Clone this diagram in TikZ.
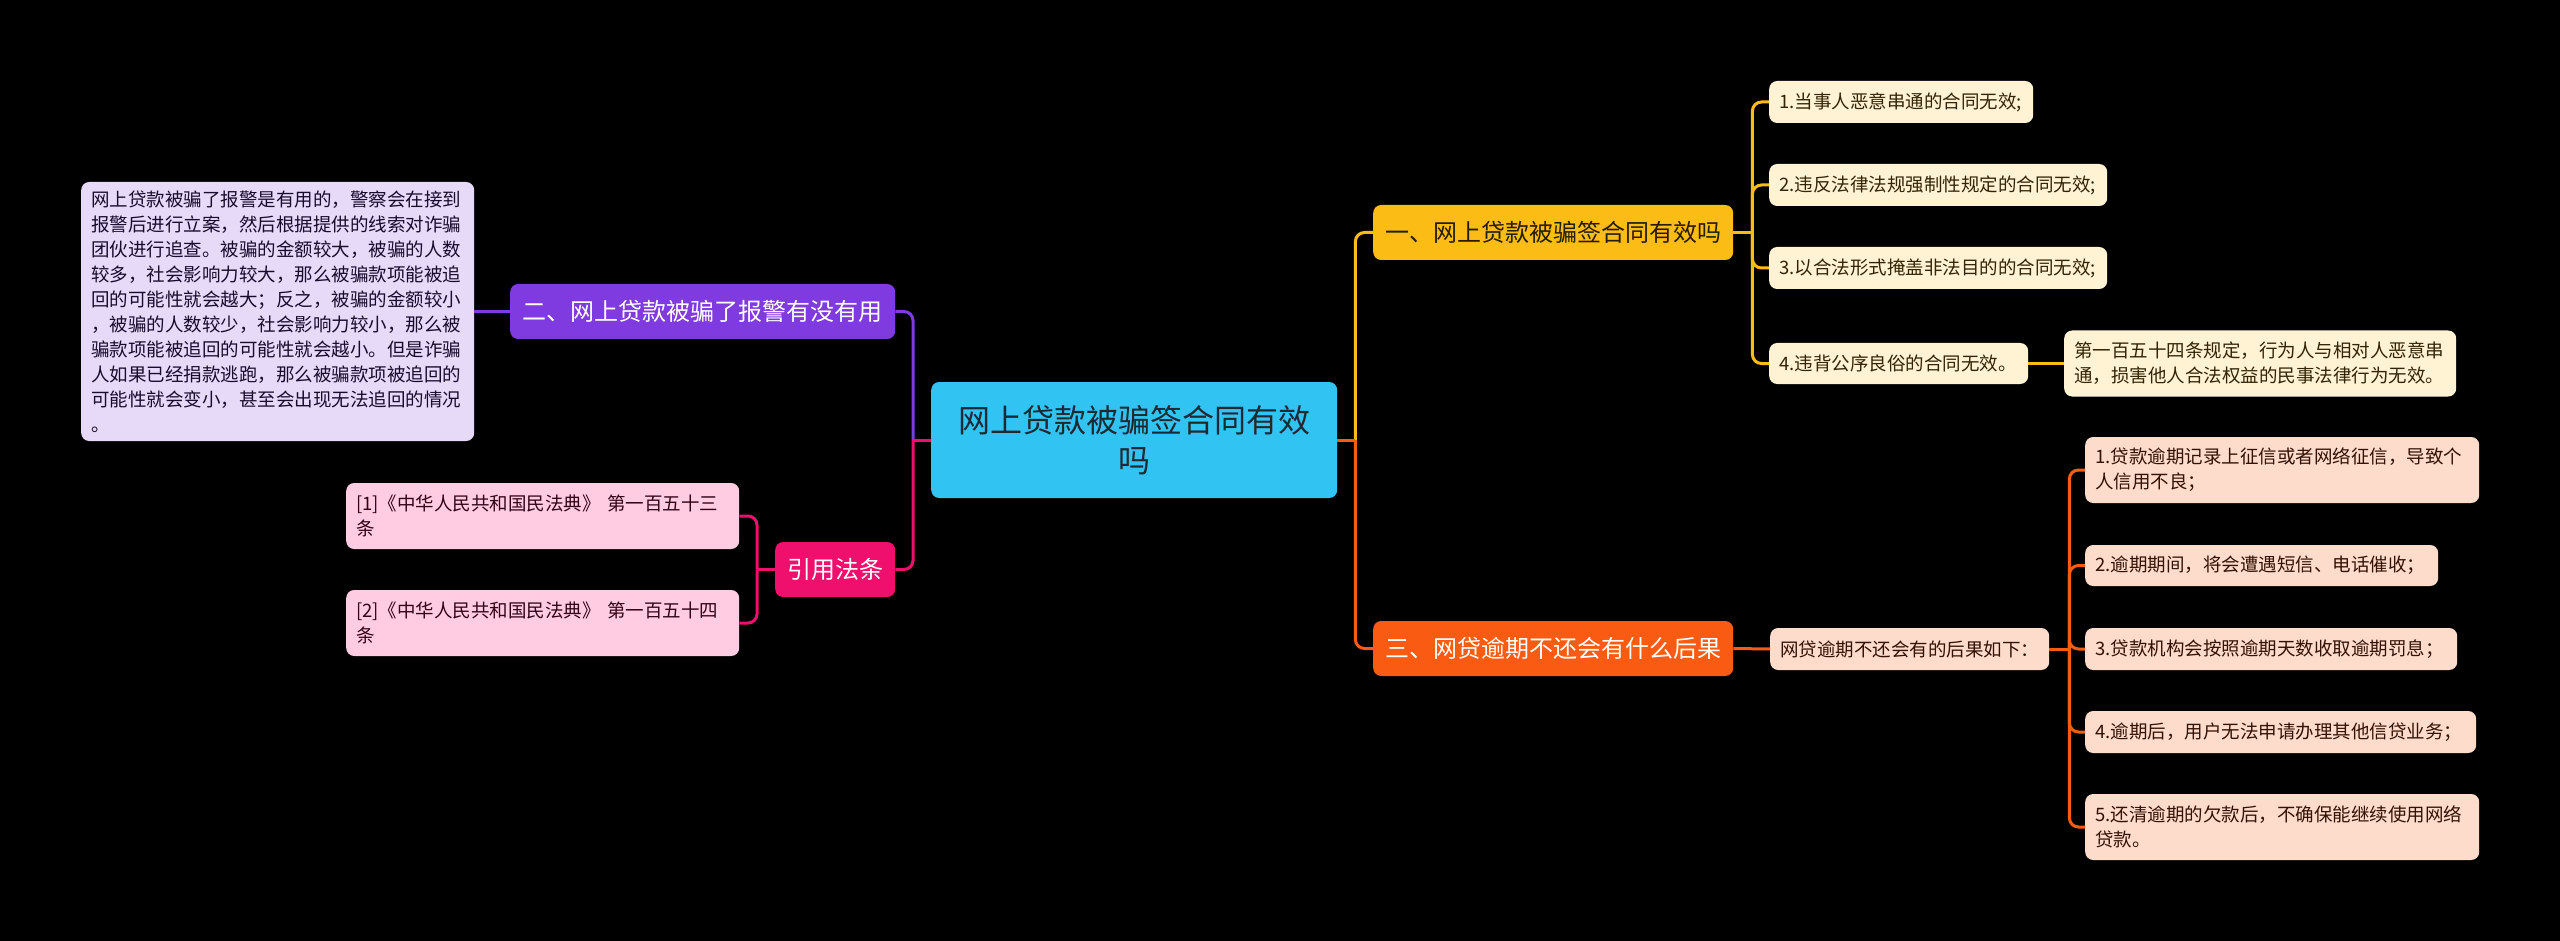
\documentclass[tikz,border=0pt]{standalone}
\usepackage{fontspec}
\setmainfont{Noto Sans CJK SC}
\definecolor{bgc}{HTML}{000000}
\definecolor{cyanc}{HTML}{31C4F3}
\definecolor{purc}{HTML}{7F3AE0}
\definecolor{purl}{HTML}{E6DAF8}
\definecolor{pinkc}{HTML}{EE106C}
\definecolor{pinkl}{HTML}{FFCCE1}
\definecolor{yelc}{HTML}{FBBC15}
\definecolor{yell}{HTML}{FFF3D4}
\definecolor{orac}{HTML}{FA5B12}
\definecolor{oral}{HTML}{FEDCCC}
\definecolor{darkt}{HTML}{1E2A33}
\begin{document}
\begin{tikzpicture}[x=1pt,y=-1pt,
  base/.style={rounded corners=8pt, inner ysep=0pt, inner xsep=10pt, anchor=west},
  title/.style={base, font=\fontsize{24}{30}\selectfont, align=center, minimum height=55pt},
  leaf/.style={base, font=\fontsize{18.5}{25}\selectfont, align=left},
  conn/.style={line width=3pt},
  elbow/.style={line width=3pt, rounded corners=9pt}
]
\useasboundingbox (0,0) rectangle (2560,941);
\fill[bgc] (0,0) rectangle (2560,941);

% central
\node[base, fill=cyanc, text=darkt, font=\fontsize{32}{40}\selectfont, align=center,
  text width=386pt, minimum height=116pt] (C) at (931,440) {网上贷款被骗签合同有效\\吗};

% left branch
\node[title, fill=purc, text=white, minimum width=385pt] (P) at (510,311.5) {二、网上贷款被骗了报警有没有用};
\node[leaf, fill=purl, text=black!80!purc, text width=373pt, minimum height=259pt] (PT) at (81,311.5)
 {网上贷款被骗了报警是有用的，警察会在接到\\报警后进行立案，然后根据提供的线索对诈骗\\团伙进行追查。被骗的金额较大，被骗的人数\\较多，社会影响力较大，那么被骗款项能被追\\回的可能性就会越大；反之，被骗的金额较小\\，被骗的人数较少，社会影响力较小，那么被\\骗款项能被追回的可能性就会越小。但是诈骗\\人如果已经捐款逃跑，那么被骗款项被追回的\\可能性就会变小，甚至会出现无法追回的情况\\。};
\node[title, fill=pinkc, text=white, minimum width=120pt] (K) at (775,569.5) {引用法条};
\node[leaf, fill=pinkl, text=black!80!pinkc, text width=373pt, minimum height=66pt] (K1) at (346,516)
 {[1]《中华人民共和国民法典》 第一百五十三\\条};
\node[leaf, fill=pinkl, text=black!80!pinkc, text width=373pt, minimum height=66pt] (K2) at (346,623)
 {[2]《中华人民共和国民法典》 第一百五十四\\条};

% right branch 1
\node[title, fill=yelc, text=black!85!yelc, minimum width=360pt] (Y) at (1373,232.5) {一、网上贷款被骗签合同有效吗};
\node[leaf, fill=yell, text=black!80!yelc, text width=244pt, minimum height=42pt] (Y1) at (1769,102) {1.当事人恶意串通的合同无效;};
\node[leaf, fill=yell, text=black!80!yelc, text width=318pt, minimum height=42pt] (Y2) at (1769,185) {2.违反法律法规强制性规定的合同无效;};
\node[leaf, fill=yell, text=black!80!yelc, text width=318pt, minimum height=42pt] (Y3) at (1769,268) {3.以合法形式掩盖非法目的的合同无效;};
\node[leaf, fill=yell, text=black!80!yelc, text width=239pt, minimum height=41pt] (Y4) at (1769,363.5) {4.违背公序良俗的合同无效。};
\node[leaf, fill=yell, text=black!80!yelc, text width=372pt, minimum height=66pt] (YD) at (2064,363.5)
 {第一百五十四条规定，行为人与相对人恶意串\\通，损害他人合法权益的民事法律行为无效。};

% right branch 3
\node[title, fill=orac, text=white, minimum width=360pt] (O) at (1373,648.5) {三、网贷逾期不还会有什么后果};
\node[leaf, fill=oral, text=black!80!orac, text width=259pt, minimum height=42pt] (O0) at (1770,649) {网贷逾期不还会有的后果如下：};
\node[leaf, fill=oral, text=black!80!orac, text width=374pt, minimum height=66pt] (O1) at (2085,470) {1.贷款逾期记录上征信或者网络征信，导致个\\人信用不良；};
\node[leaf, fill=oral, text=black!80!orac, text width=333pt, minimum height=41pt] (O2) at (2085,565.5) {2.逾期期间，将会遭遇短信、电话催收；};
\node[leaf, fill=oral, text=black!80!orac, text width=352pt, minimum height=42pt] (O3) at (2085,649) {3.贷款机构会按照逾期天数收取逾期罚息；};
\node[leaf, fill=oral, text=black!80!orac, text width=371pt, minimum height=42pt] (O4) at (2085,732) {4.逾期后，用户无法申请办理其他信贷业务；};
\node[leaf, fill=oral, text=black!80!orac, text width=374pt, minimum height=66pt] (O5) at (2085,827) {5.还清逾期的欠款后，不确保能继续使用网络\\贷款。};

% junction points
\coordinate (jL) at ([xshift=-18pt]C.west);
\coordinate (jR) at ([xshift=18pt]C.east);
\coordinate (jK) at ([xshift=-18pt]K.west);
\coordinate (jY) at ([xshift=19pt]Y.east);
\coordinate (jO) at ([xshift=20pt]O0.east);

% connectors
\draw[elbow, purc] (jL) |- (P.east);
\draw[elbow, pinkc] (jL) |- (K.east);
\draw[conn, pinkc] (C.west) -- (jL);
\draw[conn, purc] (P.west) -- (PT.east);
\draw[elbow, pinkc] (jK) |- (K1.east);
\draw[elbow, pinkc] (jK) |- (K2.east);
\draw[conn, pinkc] (K.west) -- (jK);

\draw[elbow, yelc] (jR) |- (Y.west);
\draw[elbow, orac] (jR) |- (O.west);
\draw[conn, orac] (C.east) -- (jR);
\foreach \n in {Y1,Y2,Y3,Y4}
  \draw[elbow, yelc] (jY) |- (\n.west);
\draw[conn, yelc] (Y.east) -- (jY);
\draw[conn, yelc] (Y4.east) -- (YD.west);
\draw[conn, orac] (O.east) -- (O0.west);
\foreach \n in {O1,O2,O3,O4,O5}
  \draw[elbow, orac] (jO) |- (\n.west);
\draw[conn, orac] (O0.east) -- (jO);
\end{tikzpicture}
\end{document}
